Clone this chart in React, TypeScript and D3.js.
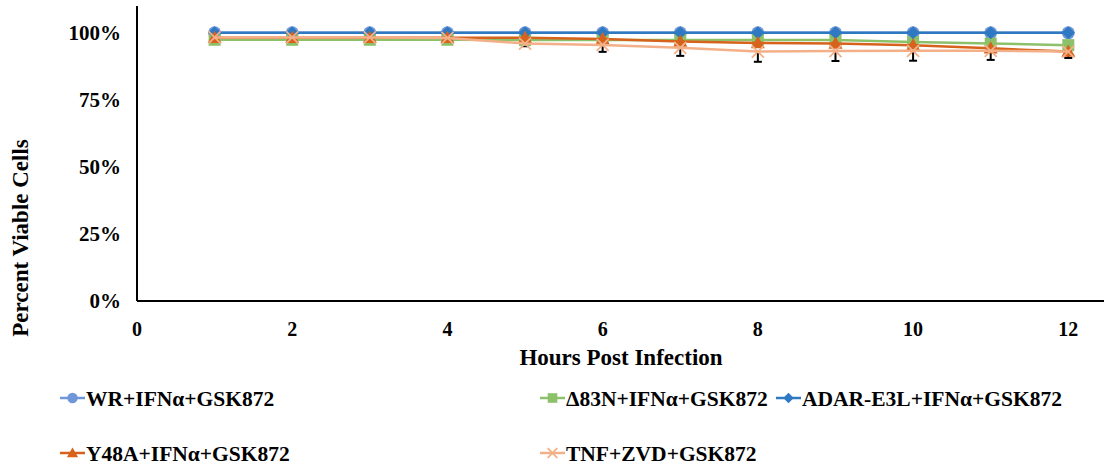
import * as d3 from 'd3';

const hours = [1, 2, 3, 4, 5, 6, 7, 8, 9, 10, 11, 12];
const wr = [100, 100, 100, 100, 100, 100, 100, 100, 100, 100, 100, 100];
const d83n = [97.4, 97.4, 97.4, 97.4, 97.3, 97.3, 97.3, 97.3, 97.3, 96.6, 96, 95.4];
const adar = [100, 100, 100, 100, 100, 100, 100, 100, 100, 100, 100, 100];
const y48a = [98.2, 98.2, 98.2, 98.2, 98.2, 97.7, 96.8, 96.2, 96, 95.4, 94.2, 93];
const tnf = [98.3, 98.3, 98.3, 98.1, 96, 95.5, 94.4, 93, 93.2, 93.3, 93.3, 93];
const tnfErr = [0, 0, 0, 0, 1, 2.6, 3, 3.8, 3.7, 3.7, 3.4, 2.4];
const xTicks = [0, 2, 4, 6, 8, 10, 12];
const yTicks = [0, 25, 50, 75, 100];

const series = [
  { name: 'WR+IFNα+GSK872', values: wr, color: '#6f96d8', shape: 'circle' },
  { name: 'Δ83N+IFNα+GSK872', values: d83n, color: '#8cc16a', shape: 'square' },
  { name: 'ADAR-E3L+IFNα+GSK872', values: adar, color: '#2f78c2', shape: 'diamond' },
  { name: 'Y48A+IFNα+GSK872', values: y48a, color: '#d6621c', shape: 'triangle' },
  { name: 'TNF+ZVD+GSK872', values: tnf, color: '#f3b088', shape: 'x' },
];

function Marker({ shape, x, y, color, size = 1 }) {
  if (shape === 'circle') return <circle cx={x} cy={y} r={6.5 * size} fill={color} />;
  if (shape === 'square') {
    const s = 6 * size;
    return <rect x={x - s} y={y - s} width={2 * s} height={2 * s} fill={color} />;
  }
  if (shape === 'diamond') {
    const s = 6.5 * size;
    return <path d={`M${x},${y - s}L${x + s},${y}L${x},${y + s}L${x - s},${y}Z`} fill={color} />;
  }
  if (shape === 'triangle') {
    const s = 7 * size;
    return <path d={`M${x},${y - s}L${x + s},${y + s * 0.75}L${x - s},${y + s * 0.75}Z`} fill={color} />;
  }
  const s = 6 * size;
  return (
    <path d={`M${x - s},${y - s}L${x + s},${y + s}M${x - s},${y + s}L${x + s},${y - s}`}
      stroke={color} strokeWidth={1.8} />
  );
}

function Label({ children, ...rest }) {
  return (
    <text fontFamily="Liberation Serif" fontWeight="bold" dy="0.35em"
      style={{ fontFamily: '"Liberation Serif", "Times New Roman", serif' }} {...rest}>
      {children}
    </text>
  );
}

export default function App() {
  const width = 1118, height = 467;
  const x = d3.scaleLinear().domain([0, 12.46]).range([137, 1104]);
  const y = d3.scaleLinear().domain([0, 110]).range([301, 6]);
  const line = d3.line<number>().x((d, i) => x(hours[i])).y(d => y(d));

  const legendPos = [
    { lx: 60, ly: 398 }, { lx: 540, ly: 398 }, { lx: 776, ly: 398 },
    { lx: 60, ly: 453 }, { lx: 540, ly: 453 },
  ];

  return (
    <svg width={width} height={height} style={{ position: 'absolute', left: 0, top: 0 }}>
      <rect width={width} height={height} fill="#fff" />
      {/* axes */}
      <line x1={x(0)} x2={x(0)} y1={6} y2={y(0)} stroke="#000" strokeWidth={2} />
      <line x1={x(0)} x2={1104} y1={y(0)} y2={y(0)} stroke="#000" strokeWidth={2} />
      {yTicks.map(t => (
        <Label key={t} x={121} y={y(t)} textAnchor="end" fontSize={21}>{t}%</Label>
      ))}
      {xTicks.map(t => (
        <Label key={t} x={x(t)} y={329} textAnchor="middle" fontSize={20}>{t}</Label>
      ))}
      <Label x={621} y={357} textAnchor="middle" fontSize={23}>Hours Post Infection</Label>
      <Label transform="translate(20,238) rotate(-90)" textAnchor="middle" fontSize={23}>Percent Viable Cells</Label>

      {/* error bars */}
      {tnf.map((v, i) => tnfErr[i] > 0 && (
        <g key={i} stroke="#000" strokeWidth={2}>
          <line x1={x(hours[i])} x2={x(hours[i])} y1={y(v)} y2={y(v - tnfErr[i])} />
          <line x1={x(hours[i]) - 4} x2={x(hours[i]) + 4} y1={y(v - tnfErr[i])} y2={y(v - tnfErr[i])} />
        </g>
      ))}

      {/* series */}
      {series.map(s => (
        <g key={s.name}>
          <path d={line(s.values) || ''} fill="none" stroke={s.color} strokeWidth={2.5} />
          {s.values.map((v, i) => (
            <Marker key={i} shape={s.shape} x={x(hours[i])} y={y(v)} color={s.color} />
          ))}
        </g>
      ))}

      {/* legend */}
      {series.map((s, i) => {
        const { lx, ly } = legendPos[i];
        return (
          <g key={s.name}>
            <line x1={lx} x2={lx + 25} y1={ly} y2={ly} stroke={s.color} strokeWidth={2.5} />
            <Marker shape={s.shape} x={lx + 12.5} y={ly} color={s.color} size={0.8} />
            <Label x={lx + 26} y={ly} fontSize={21.5}>{s.name}</Label>
          </g>
        );
      })}
    </svg>
  );
}
